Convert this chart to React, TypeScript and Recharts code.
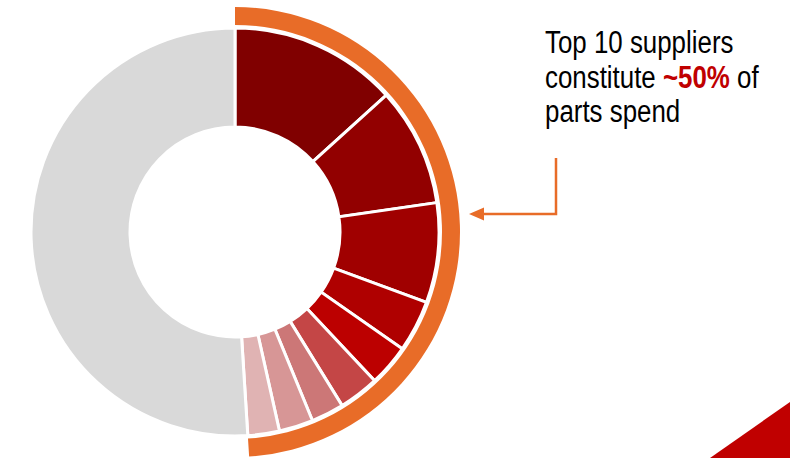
import { PieChart, Pie, Cell } from 'recharts'

// spend share per supplier (%), read clockwise from 12 o'clock
const suppliers = [
  'Supplier 1',
  'Supplier 2',
  'Supplier 3',
  'Supplier 4',
  'Supplier 5',
  'Supplier 6',
  'Supplier 7',
  'Supplier 8',
  'Supplier 9',
  'Other suppliers',
]
const spendShare = [13.3, 9.4, 7.9, 4.1, 3.3, 3.2, 2.6, 2.7, 2.5, 51.0]
const sliceColors = [
  '#800000',
  '#920000',
  '#A00000',
  '#AF0000',
  '#BC0000',
  '#C44646',
  '#CC7777',
  '#D79696',
  '#E0B3B3',
  '#D9D9D9',
]
const topCount = 9

const ORANGE = '#E86C28'

export default function App() {
  const data = suppliers.map((name, i) => ({ name, value: spendShare[i] }))
  const topShare = spendShare.slice(0, topCount).reduce((a, b) => a + b, 0)
  const ringData = [
    { name: 'Top suppliers', value: topShare },
    { name: 'Rest', value: 100 - topShare },
  ]

  return (
    <div
      style={{
        position: 'absolute',
        left: 0,
        top: 0,
        width: 790,
        height: 458,
        background: '#fff',
        overflow: 'hidden',
      }}
    >
      <PieChart
        width={790}
        height={458}
        margin={{ top: 0, right: 0, bottom: 0, left: 0 }}
      >
        <Pie
          data={data}
          dataKey="value"
          nameKey="name"
          cx={235}
          cy={232}
          innerRadius={105}
          outerRadius={204}
          startAngle={90}
          endAngle={-270}
          stroke="#fff"
          strokeWidth={3}
          isAnimationActive={false}
        >
          {data.map((d, i) => (
            <Cell key={d.name} fill={sliceColors[i]} />
          ))}
        </Pie>
        <Pie
          data={ringData}
          dataKey="value"
          nameKey="name"
          cx={235}
          cy={232}
          innerRadius={207}
          outerRadius={225}
          startAngle={90}
          endAngle={-270}
          stroke="none"
          isAnimationActive={false}
        >
          <Cell fill={ORANGE} />
          <Cell fill="none" />
        </Pie>
      </PieChart>

      <svg
        width={790}
        height={458}
        style={{ position: 'absolute', left: 0, top: 0, pointerEvents: 'none' }}
      >
        {/* condensed look: no narrow face installed, so squeeze horizontally */}
        <g transform="translate(545,0) scale(0.835,1)">
          <text fontFamily="'Liberation Sans', Arial, sans-serif" fontSize={31} fill="#000">
            <tspan x={0} y={53}>
              Top 10 suppliers
            </tspan>
            <tspan x={0} y={88}>
              constitute{' '}
              <tspan fill="#C00000" fontWeight="bold">
                ~50%
              </tspan>{' '}
              of
            </tspan>
            <tspan x={0} y={122}>
              parts spend
            </tspan>
          </text>
        </g>

        <polyline
          points="556,158 556,214 482,214"
          fill="none"
          stroke={ORANGE}
          strokeWidth={2.5}
        />
        <polygon points="469,214 484,207.5 484,220.5" fill={ORANGE} />

        <polygon points="710,458 790,402 790,458" fill="#C00000" />
      </svg>
    </div>
  )
}
